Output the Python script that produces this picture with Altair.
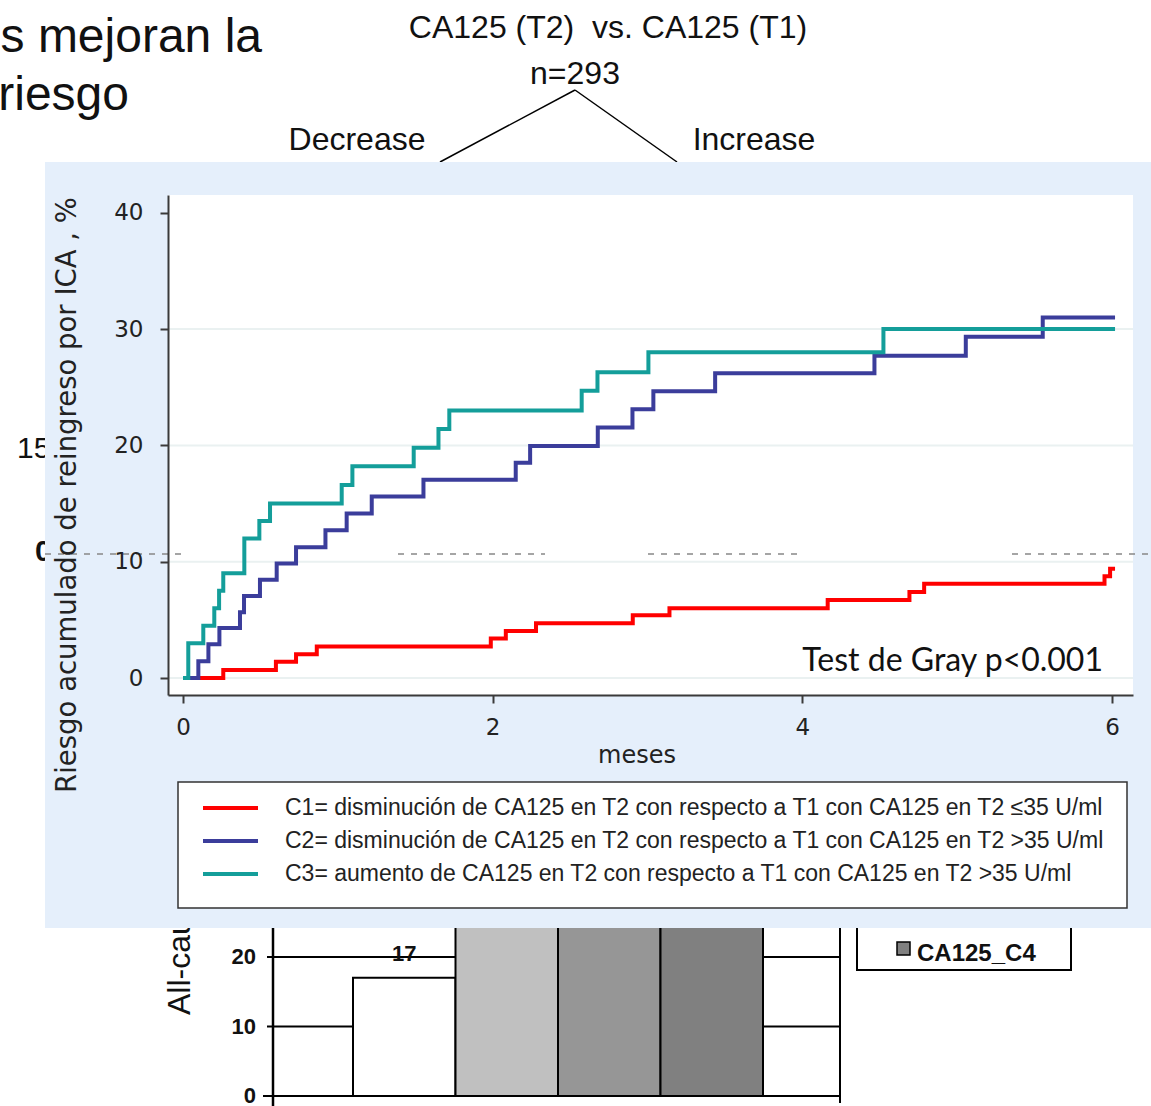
import altair as alt
import pandas as pd

# ---------------------------------------------------------------------------
# Cumulative readmission risk (%) by CA125 change group, months of follow-up
# ---------------------------------------------------------------------------
c1_time = [0, 0.26, 0.60, 0.73, 0.864, 1.988, 2.085, 2.28, 2.905, 3.142, 4.164, 4.692, 4.787, 5.952, 5.988, 6.02]
c1_risk = [0, 0.7, 1.4, 2.05, 2.7, 3.4, 4.05, 4.7, 5.4, 6.0, 6.7, 7.4, 8.1, 8.75, 9.4, 9.4]

c2_time = [0, 0.099, 0.164, 0.235, 0.368, 0.394, 0.497, 0.605, 0.73, 0.92, 1.057, 1.219, 1.553,
           2.149, 2.242, 2.679, 2.903, 3.038, 3.437, 4.466, 5.056, 5.553, 6.02]
c2_risk = [0, 1.45, 2.9, 4.3, 5.65, 7.05, 8.45, 9.85, 11.25, 12.7, 14.15, 15.6, 17.05,
           18.5, 19.95, 21.55, 23.1, 24.65, 26.2, 27.7, 29.35, 31.0, 31.0]

c3_time = [0, 0.034, 0.131, 0.202, 0.233, 0.26, 0.396, 0.493, 0.562, 1.025, 1.094, 1.49, 1.65,
           1.72, 2.575, 2.677, 3.006, 4.524, 6.02]
c3_risk = [0, 3.0, 4.5, 6.0, 7.5, 9.0, 12.0, 13.5, 15.0, 16.6, 18.2, 19.8, 21.4,
           23.0, 24.7, 26.3, 28.0, 30.0, 30.0]

group_labels = [
    "C1= disminución de CA125 en T2 con respecto a T1 con CA125 en T2 ≤35 U/ml",
    "C2= disminución de CA125 en T2 con respecto a T1 con CA125 en T2 >35 U/ml",
    "C3= aumento de CA125 en T2 con respecto a T1 con CA125 en T2 >35 U/ml",
]
group_colors = ["#FF0000", "#3B3D9B", "#149E9A"]

x_ticks = [0, 2, 4, 6]
y_ticks = [0, 10, 20, 30, 40]
y_grid = [0, 10, 20, 30]

# background bar chart (partly covered by the panel)
bar_cats = ["CA125_C1", "CA125_C2", "CA125_C3", "CA125_C4"]
bar_vals = [17, 29, 33, 37]
bar_fills = ["#FFFFFF", "#C0C0C0", "#969696", "#808080"]
bar_ticks = [0, 10, 20]

W, H = 965, 500
SANS = "Liberation Sans"
AXF = "DejaVu Sans"

one = pd.DataFrame({"k": [0]})


def txt(s, x, y, size, font=SANS, align="left", baseline="alphabetic", weight="normal",
        color="#111111", angle=0):
    return alt.Chart(one).mark_text(
        text=s, font=font, fontSize=size, align=align, baseline=baseline,
        fontWeight=weight, color=color, angle=angle,
    ).encode(x=alt.value(x), y=alt.value(y))


def seg(x1, y1, x2, y2, color="#000000", width=1.5, dash=None):
    kw = dict(color=color, strokeWidth=width)
    if dash:
        kw["strokeDash"] = dash
    return alt.Chart(one).mark_rule(**kw).encode(
        x=alt.value(x1), y=alt.value(y1), x2=alt.value(x2), y2=alt.value(y2))


def box(x1, y1, x2, y2, fill, stroke=None, width=0):
    kw = dict(fill=fill)
    if stroke:
        kw.update(stroke=stroke, strokeWidth=width)
    return alt.Chart(one).mark_rect(**kw).encode(
        x=alt.value(x1), y=alt.value(y1), x2=alt.value(x2), y2=alt.value(y2))


# ----------------------------- slide text ---------------------------------
slide = [
    txt("s mejoran la", 94, -143, 48, align="right"),
    txt("riesgo", -39, -85, 48, align="right"),
    txt("CA125 (T2)\u00a0 vs. CA125 (T1)", 440, -157, 32, align="center"),
    txt("n=293", 407, -111, 32, align="center"),
    txt("Decrease", 189, -45, 32, align="center"),
    txt("Increase", 586, -45, 32, align="center"),
    seg(407, -105, 272, -33, width=1.5),
    seg(407, -105, 509, -33, width=1.5),
    txt("15", -151, 263, 30),
    txt("0", -133, 366, 30, weight="bold"),
    txt("All-cause mortality (%)", 22, 820, 32, angle=270, baseline="alphabetic"),
]

# ------------------------ background bar chart -----------------------------
bg_x = alt.Scale(domain=bar_cats, range=[185, 595], paddingInner=0, paddingOuter=0)
bg_y = alt.Scale(domain=[0, 20], range=[901, 762], nice=False, zero=True)

bars_df = pd.DataFrame({"cat": bar_cats, "val": bar_vals})
bg_grid_df = pd.DataFrame({"v": [10, 20]})
bg_tick_df = pd.DataFrame({"v": bar_ticks, "lab": [str(v) for v in bar_ticks]})

bg_layers = alt.layer(
    alt.Chart(bg_grid_df).mark_rule(color="black", strokeWidth=2).encode(
        y=alt.Y("v:Q", scale=bg_y, axis=None), x=alt.value(99), x2=alt.value(672)),
    alt.Chart(bars_df).mark_bar(stroke="black", strokeWidth=2).encode(
        x=alt.X("cat:N", scale=bg_x, axis=None),
        y=alt.Y("val:Q", scale=bg_y, axis=None),
        fill=alt.Fill("cat:N", scale=alt.Scale(domain=bar_cats, range=bar_fills), legend=None),
    ),
    alt.Chart(bars_df.iloc[:1]).mark_text(
        font=SANS, fontSize=22, fontWeight="bold", baseline="middle", dy=-24, color="#111"
    ).encode(x=alt.X("cat:N", scale=bg_x, axis=None), y=alt.Y("val:Q", scale=bg_y, axis=None),
             text="val:Q"),
    alt.Chart(bg_tick_df).mark_text(
        font=SANS, fontSize=22, fontWeight="bold", align="right", baseline="middle", color="#111"
    ).encode(y=alt.Y("v:Q", scale=bg_y, axis=None), x=alt.value(88), text="lab:N"),
    seg(95, 901, 672, 901, width=2),
    seg(105, 700, 105, 911, width=2.5),
    seg(672, 700, 672, 908, width=2),
    box(689, 700, 903, 775, "#FFFFFF", "#000000", 2),
    box(729, 747, 742, 760, "#808080", "#000000", 1.5),
    txt("CA125_C4", 749, 766, 24, weight="bold"),
)

# ---------------------------- main figure ----------------------------------
x_scale = alt.Scale(domain=[-0.097, 6.136], nice=False, zero=False)
y_scale = alt.Scale(domain=[-1.46, 41.53], nice=False, zero=False)

x_axis = alt.Axis(values=x_ticks, grid=False, title=None, tickSize=8, tickWidth=2,
                  tickColor="#3a3a3a", domainColor="#3a3a3a", domainWidth=2,
                  labelFont=AXF, labelFontSize=23, labelColor="#222222", labelPadding=13,
                  labelFlush=False, zindex=1)
y_axis = alt.Axis(values=y_ticks, grid=False, title=None, tickSize=8, tickWidth=2,
                  tickColor="#3a3a3a", domainColor="#3a3a3a", domainWidth=2,
                  labelFont=AXF, labelFontSize=23, labelColor="#222222", labelPadding=17,
                  zindex=1)

color_scale = alt.Scale(domain=group_labels, range=group_colors)


def curve(times, risks, label):
    df = pd.DataFrame({"meses": times, "riesgo": risks, "grupo": label})
    return alt.Chart(df).mark_line(interpolate="step-after", strokeWidth=4).encode(
        x=alt.X("meses:Q", scale=x_scale, axis=x_axis),
        y=alt.Y("riesgo:Q", scale=y_scale, axis=y_axis),
        color=alt.Color("grupo:N", scale=color_scale, legend=None),
    )


grid = alt.Chart(pd.DataFrame({"g": y_grid})).mark_rule(color="#EAF1F1", strokeWidth=2).encode(
    y=alt.Y("g:Q", scale=y_scale, axis=y_axis), x=alt.value(0), x2=alt.value(W))

# faint dashed strokes crossing the panel
dashes = [seg(a, 359, b, 359, color="#888888", width=1.5, dash=[6, 7])
          for a, b in [(-123, 20), (230, 377), (480, 635), (844, 983)]]

legend_items = []
for i, (lab, col) in enumerate(zip(group_labels, group_colors)):
    yy = 613 + 33 * i
    legend_items.append(seg(35, yy, 90, yy, color=col, width=4))
    legend_items.append(txt(lab, 117, yy, 23, baseline="middle", color="#222222"))

main = alt.layer(
    box(-123, -33, 983, 733, "#E5EFFB"),
    box(0, 0, W, H, "#FFFFFF"),
    grid,
    curve(c1_time, c1_risk, group_labels[0]),
    curve(c2_time, c2_risk, group_labels[1]),
    curve(c3_time, c3_risk, group_labels[2]),
    *dashes,
    txt("Test de Gray p<0.001", 935, 466, 32, font="Lato", align="right", baseline="middle",
        color="#111111"),
    txt("meses", 469, 561, 24, font=AXF, align="center", baseline="middle", color="#222222"),
    txt("Riesgo acumulado de reingreso por ICA , %", -100, 300, 27.5, font=AXF, align="center",
        baseline="middle", angle=270, color="#222222"),
    box(10, 587, 959, 713, "#FFFFFF", "#333333", 1.5),
    *legend_items,
)

chart = alt.layer(*slide, bg_layers, main).resolve_scale(
    x="independent", y="independent", color="independent", fill="independent"
).properties(
    width=W, height=H,
    padding={"left": 168, "top": 195, "right": 18, "bottom": 411},
    autosize=alt.AutoSizeParams(type="none"),
).configure(background="#FFFFFF").configure_view(stroke=None)

chart.save("out.html", embed_options={"renderer": "svg", "actions": False})
